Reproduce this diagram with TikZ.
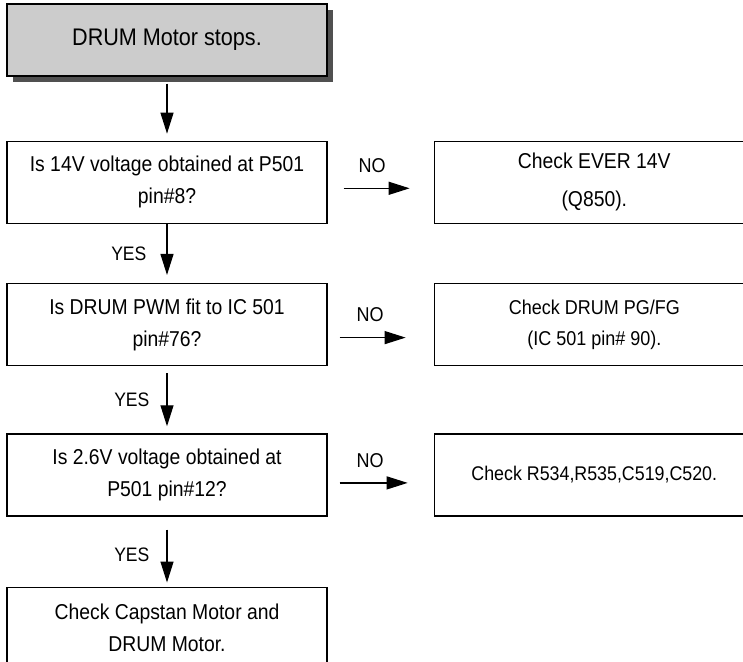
\documentclass[tikz,border=0pt]{standalone}
\usepackage{fontspec}
\setmainfont{Liberation Sans}[FakeStretch=0.9]
\usetikzlibrary{positioning,arrows.meta,shadows}
\definecolor{boxgray}{RGB}{204,204,204}
\definecolor{shadowgray}{RGB}{80,80,80}

\begin{document}
\begin{tikzpicture}[x=1pt,y=-1pt,
  box/.style={draw,line width=1.3pt,minimum width=320pt,minimum height=82pt,inner sep=0pt,
    align=center,font=\fontsize{21.5}{32}\selectfont},
  arr/.style={-{Triangle[length=21pt,width=13pt]},line width=1.2pt},
  lbl/.style={inner sep=0pt,font=\fontsize{20}{24}\selectfont}]
  \useasboundingbox (0,0) rectangle (743,661);
  \node[box,fill=boxgray,minimum height=72pt,font=\fontsize{24}{32}\selectfont,
    drop shadow={shadow xshift=6pt,shadow yshift=-6pt,fill=shadowgray,opacity=1}] (start) at (167,40) {DRUM Motor stops.};
  \node[box,below=64pt of start] (q1) {Is 14V voltage obtained at P501\\pin\#8?};
  \node[box,below=59pt of q1] (q2) {Is DRUM PWM fit to IC 501\\pin\#76?};
  \node[box,below=67pt of q2] (q3) {Is 2.6V voltage obtained at\\P501 pin\#12?};
  \node[box,below=70pt of q3] (end) {Check Capstan Motor and\\DRUM Motor.};
  \node[box,right=106pt of q1,font=\fontsize{21.5}{38}\selectfont] (c1) {Check EVER 14V\\(Q850).};
  \node[box,right=106pt of q2,font=\fontsize{20}{31}\selectfont] (c2) {Check DRUM PG/FG\\(IC 501 pin\# 90).};
  \node[box,right=106pt of q3,font=\fontsize{19.8}{31}\selectfont] (c3) {Check R534,R535,C519,C520.};
  % down the YES path
  \draw[arr,shorten <=7pt,shorten >=7pt] (start) -- (q1);
  \draw[arr,shorten >=8pt] (q1) -- node[lbl,left=20pt,font=\fontsize{19.5}{24}\selectfont]{YES} (q2);
  \draw[arr,shorten <=7pt,shorten >=7pt] (q2) -- node[lbl,left=17pt,font=\fontsize{19.5}{24}\selectfont]{YES} (q3);
  \draw[arr,shorten <=13pt,shorten >=4pt] (q3) -- node[lbl,left=17pt,pos=0.55,font=\fontsize{19.5}{24}\selectfont]{YES} (end);
  % NO branches
  \draw[arr,shorten <=16pt,shorten >=24pt] ([yshift=-6pt]q1.east) -- node[lbl,above=15pt,pos=0.42]{NO} ([yshift=-6pt]c1.west);
  \draw[arr,shorten <=12pt,shorten >=28pt] ([yshift=-13pt]q2.east) -- node[lbl,above=15pt,pos=0.4]{NO} ([yshift=-13pt]c2.west);
  \draw[arr,shorten <=12pt,shorten >=26pt] ([yshift=-8pt]q3.east) -- node[lbl,above=15pt,pos=0.4]{NO} ([yshift=-8pt]c3.west);
\end{tikzpicture}
\end{document}
